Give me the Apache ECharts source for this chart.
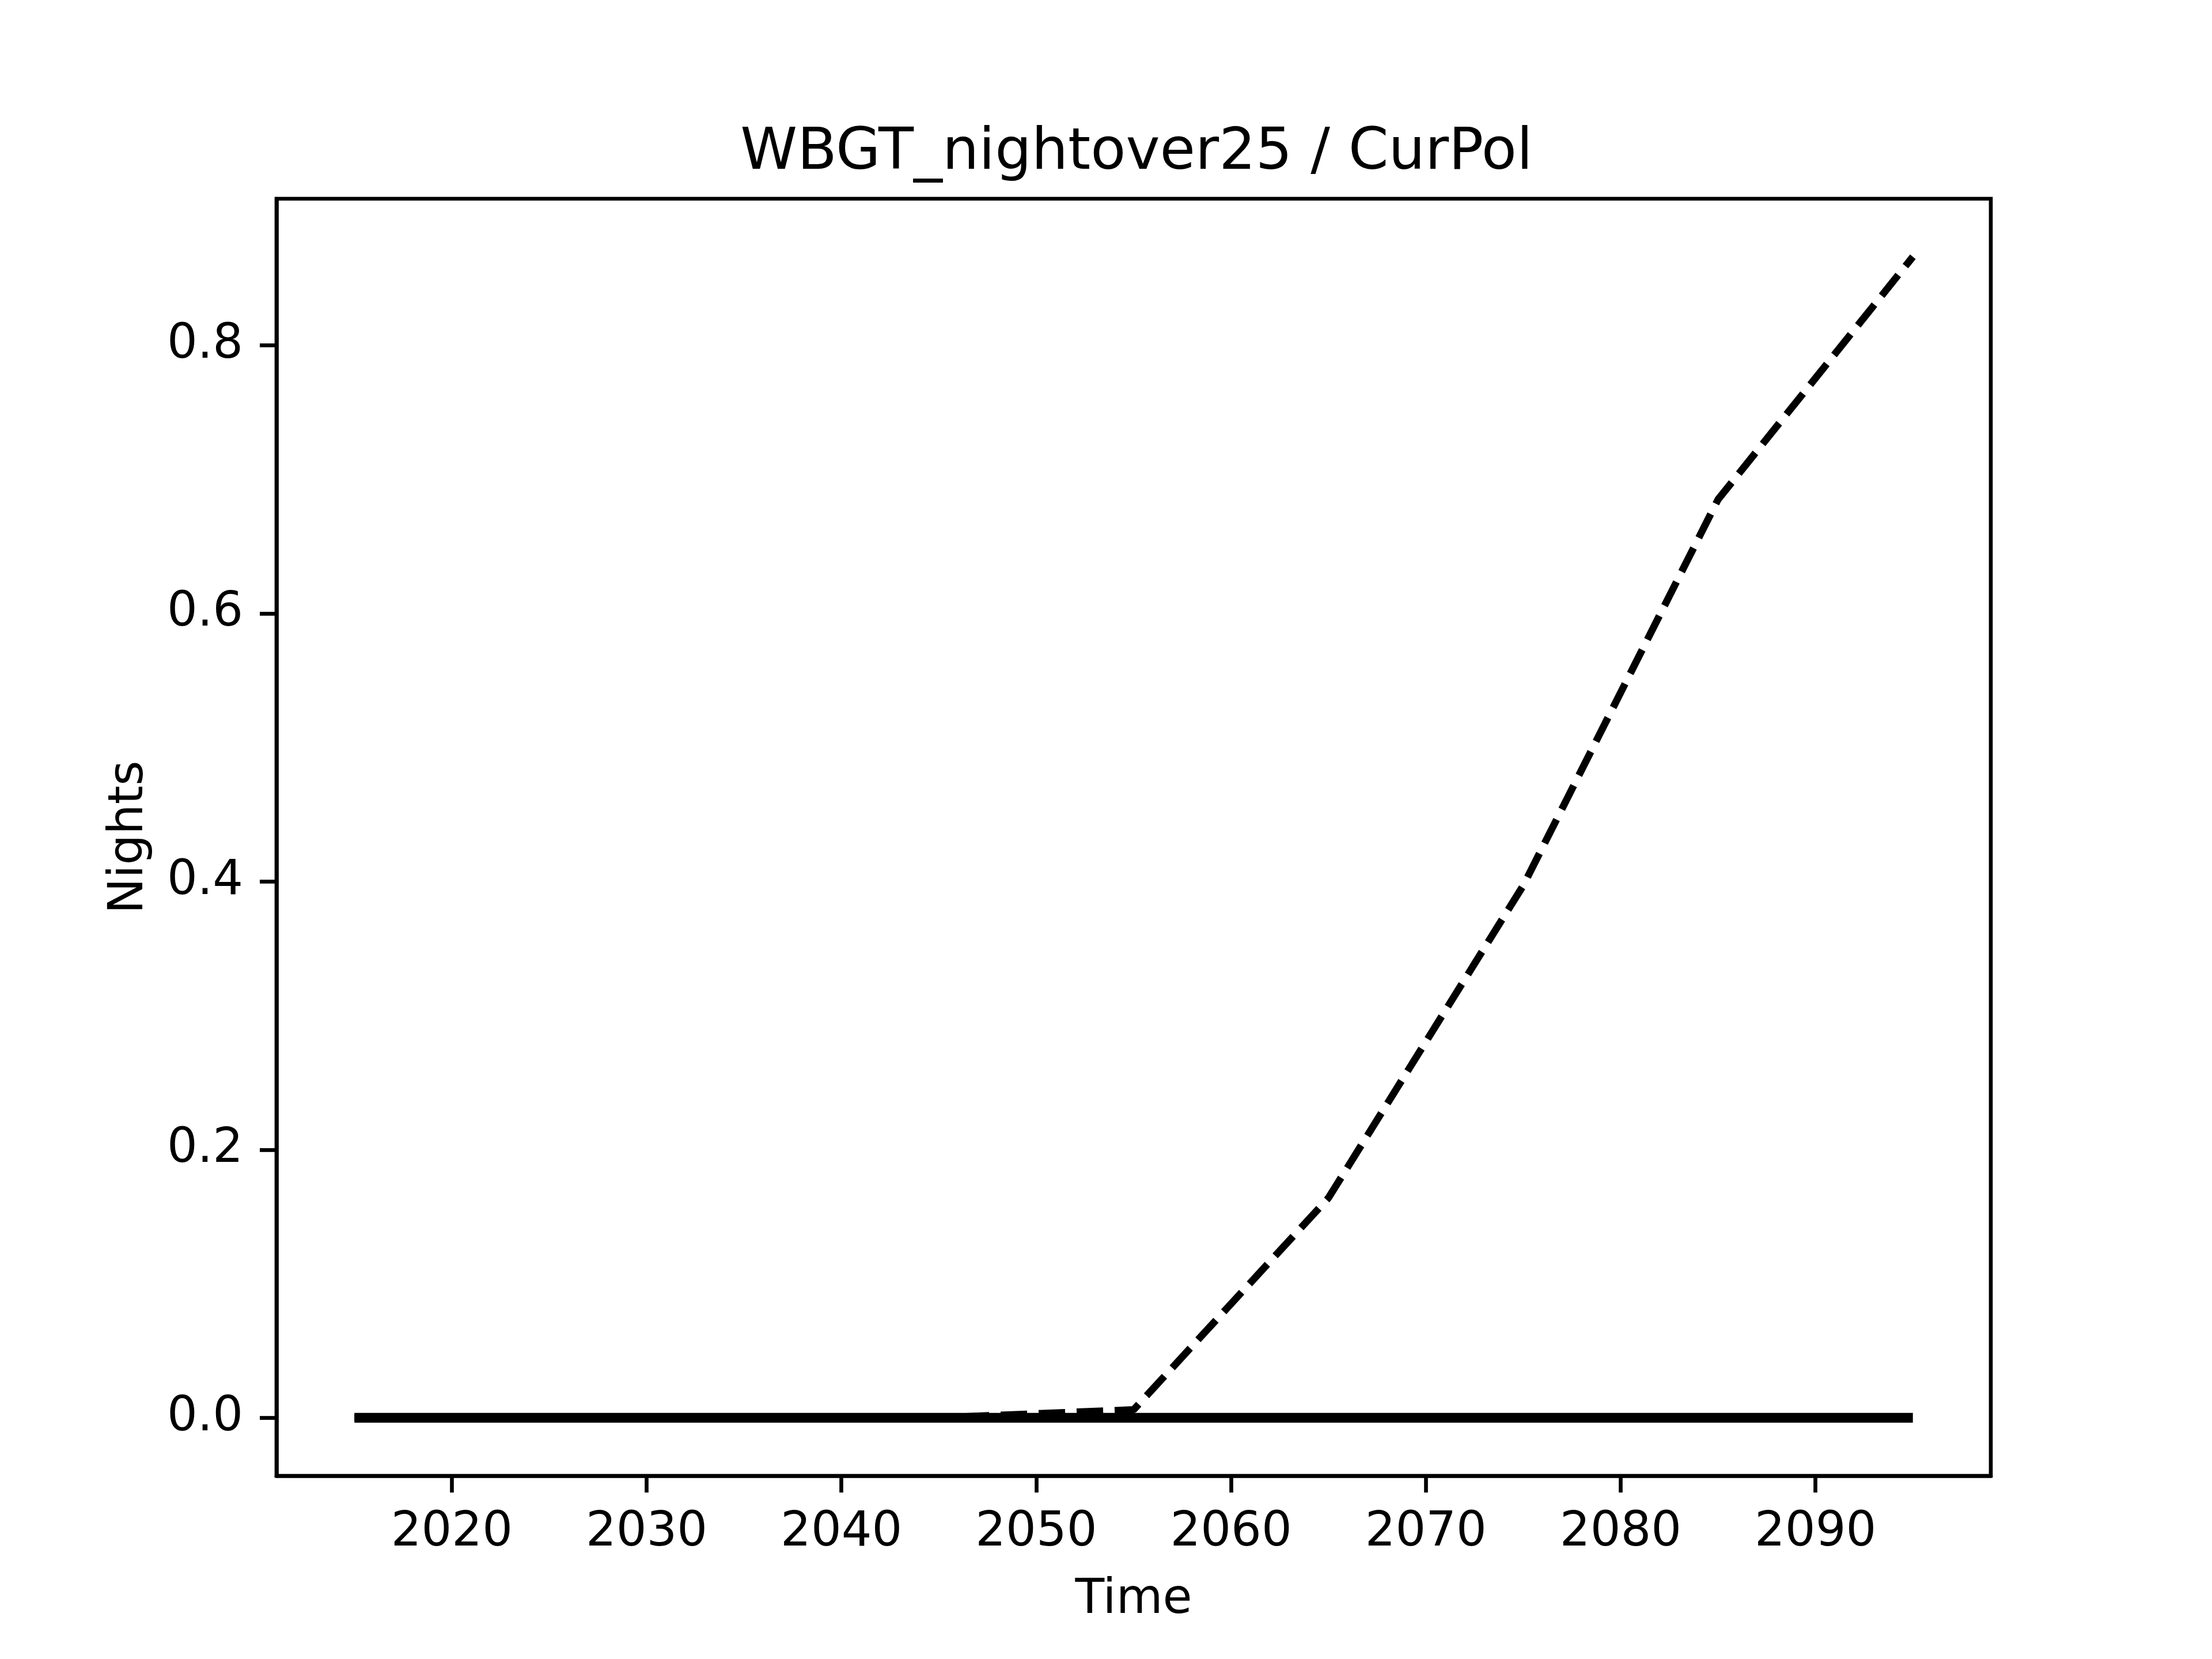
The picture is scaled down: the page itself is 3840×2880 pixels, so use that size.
<!DOCTYPE html>
<html>
<head>
<meta charset="utf-8">
<script src="https://cdn.jsdelivr.net/npm/echarts@6/dist/echarts.min.js"></script>
<style>
html,body{margin:0;padding:0;background:#fff;}
#chart{width:3840px;height:2880px;}
</style>
</head>
<body>
<div id="chart"></div>
<script>
const years = [2015, 2025, 2035, 2045, 2055, 2065, 2075, 2085, 2095];
const dashedValues = [0, 0, 0, 0, 0.006, 0.164, 0.397, 0.685, 0.866];
const solidValues = [0, 0, 0, 0, 0, 0, 0, 0, 0];
const xTicks = [2020, 2030, 2040, 2050, 2060, 2070, 2080, 2090];
const yTicks = [0, 0.2, 0.4, 0.6, 0.8];

const FONT = 'DejaVu Sans';
const chart = echarts.init(document.getElementById('chart'), null, {renderer: 'canvas'});

const pairs = (vals) => years.map((y, i) => [y, vals[i]]);

chart.setOption({
  backgroundColor: '#ffffff',
  animation: false,
  title: {
    text: 'WBGT_nightover25 / CurPol',
    left: 1968,
    textAlign: 'center',
    top: 212,
    textStyle: {fontFamily: FONT, fontSize: 100, fontWeight: 'normal', color: '#000'}
  },
  grid: {
    left: 480, right: 384, top: 345, bottom: 318,
    show: true, borderColor: '#000', borderWidth: 6.67, backgroundColor: 'transparent'
  },
  xAxis: {
    type: 'value',
    min: 2011, max: 2099,
    name: 'Time',
    nameLocation: 'middle',
    nameGap: 175,
    nameTextStyle: {fontFamily: FONT, fontSize: 83, color: '#000'},
    axisLine: {show: true, onZero: false, lineStyle: {color: '#000', width: 6.67}},
    axisTick: {show: true, inside: false, length: 29, customValues: xTicks, lineStyle: {color: '#000', width: 6.67}},
    axisLabel: {show: true, margin: 58, customValues: xTicks, fontFamily: FONT, fontSize: 83, color: '#000',
      formatter: (v) => String(v)},
    splitLine: {show: false}
  },
  yAxis: {
    type: 'value',
    min: -0.0433, max: 0.9093,
    name: 'Nights',
    nameLocation: 'middle',
    nameGap: 213,
    nameRotate: 90,
    nameTextStyle: {fontFamily: FONT, fontSize: 83, color: '#000'},
    axisLine: {show: true, onZero: false, lineStyle: {color: '#000', width: 6.67}},
    axisTick: {show: true, inside: false, length: 29, customValues: yTicks, lineStyle: {color: '#000', width: 6.67}},
    axisLabel: {show: true, margin: 58, customValues: yTicks, fontFamily: FONT, fontSize: 83, color: '#000',
      formatter: (v) => Number(v).toFixed(1)},
    splitLine: {show: false}
  },
  series: [
    {
      type: 'line',
      data: pairs(solidValues),
      showSymbol: false,
      symbol: 'none',
      lineStyle: {color: '#000', width: 17, type: 'solid', cap: 'butt'},
      z: 2
    },
    {
      type: 'line',
      data: pairs(dashedValues),
      showSymbol: false,
      symbol: 'none',
      lineStyle: {color: '#000', width: 12.5, type: [46, 20], cap: 'butt'},
      z: 3
    }
  ]
});
</script>
</body>
</html>
